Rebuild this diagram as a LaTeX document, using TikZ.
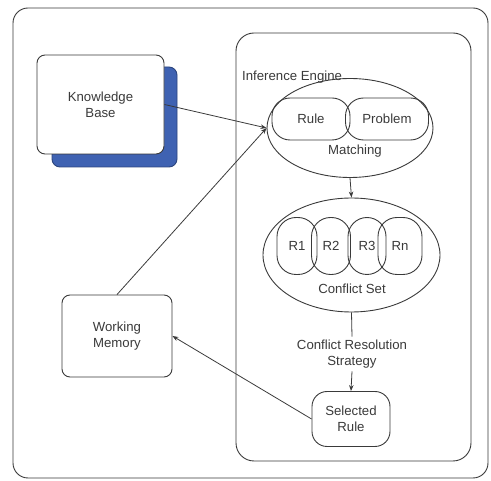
\documentclass[tikz,border=0pt]{standalone}
\usepackage{fontspec}
\setmainfont{Liberation Sans}
\usetikzlibrary{shapes.geometric,shapes.misc,arrows.meta}
\definecolor{ink}{HTML}{3A3A3A}
\definecolor{shadowblue}{HTML}{3F62B2}
\begin{document}
\begin{tikzpicture}[x=1pt,y=-1pt,
  every node/.style={font=\fontsize{13.2}{16}\selectfont, text=ink, align=center},
  box/.style={draw=ink, line width=0.9pt, fill=white, rounded corners=8pt, inner sep=0pt},
  pill/.style={draw=ink, line width=0.9pt, rounded corners=19pt, inner sep=0pt},
  oval/.style={draw=ink, line width=0.9pt, ellipse, inner sep=0pt},
  link/.style={draw=ink, line width=0.8pt},
  arrow/.style={link, -{Stealth[length=6pt,width=4.5pt]}}]
  \useasboundingbox (0,0) rectangle (491,481);

  % outer frame and inference engine container
  \draw[ink, line width=0.9pt, rounded corners=15pt] (13,8) rectangle (488,478);
  \draw[ink, line width=0.9pt, rounded corners=18pt] (236,33) rectangle (471,461);
  \node[anchor=west, inner sep=0pt] (ie) at (242,77) {Inference Engine};

  % knowledge base with shadow
  \node[box, draw=shadowblue!70!black, fill=shadowblue, minimum width=125pt, minimum height=100pt] (kbshadow) at (114.5,117) {};
  \node[box, minimum width=127pt, minimum height=99pt] (kb) at (100.5,104.5) {Knowledge\\Base};

  % working memory
  \node[box, minimum width=110pt, minimum height=82pt] (wm) at (117,336) {Working\\Memory};

  % matching stage
  \node[oval, minimum width=166pt, minimum height=99pt] (match) at (350,128) {};
  \node[pill, rounded corners=18pt, minimum width=78pt, minimum height=42pt] (rule) at (311,119) {Rule};
  \node[pill, rounded corners=18pt, minimum width=83pt, minimum height=42pt] (prob) at (387,119) {Problem};
  \node[inner sep=0pt] (matchlbl) at (355,151) {Matching};

  % conflict set
  \node[oval, minimum width=177pt, minimum height=114pt] (cs) at (351.5,255) {};
  \node[pill, minimum width=40pt, minimum height=57pt] (r1) at (297,246) {R1};
  \node[pill, minimum width=39pt, minimum height=57pt] (r2) at (331,246) {R2};
  \node[pill, minimum width=38pt, minimum height=57pt] (r3) at (367,246) {R3};
  \node[pill, minimum width=44pt, minimum height=57pt] (rn) at (400,246) {Rn};
  \node[inner sep=0pt] (cslbl) at (352,289) {Conflict Set};

  % resolution strategy and selected rule
  \node[inner sep=3pt] (crs) at (352,354) {Conflict Resolution\\Strategy};
  \node[box, rounded corners=15pt, minimum width=78pt, minimum height=55pt] (sr) at (351,419) {Selected\\Rule};

  % connectors
  \draw[arrow] (kb.east) -- (match.west);
  \draw[arrow] (wm.north) -- (match.west);
  \draw[arrow] (match.south) -- (cs.north);
  \draw[link] (cs.south) -- (crs.north);
  \draw[arrow] (crs.south) -- (sr.north);
  \draw[arrow] (sr.west) -- (wm.east);
\end{tikzpicture}
\end{document}
